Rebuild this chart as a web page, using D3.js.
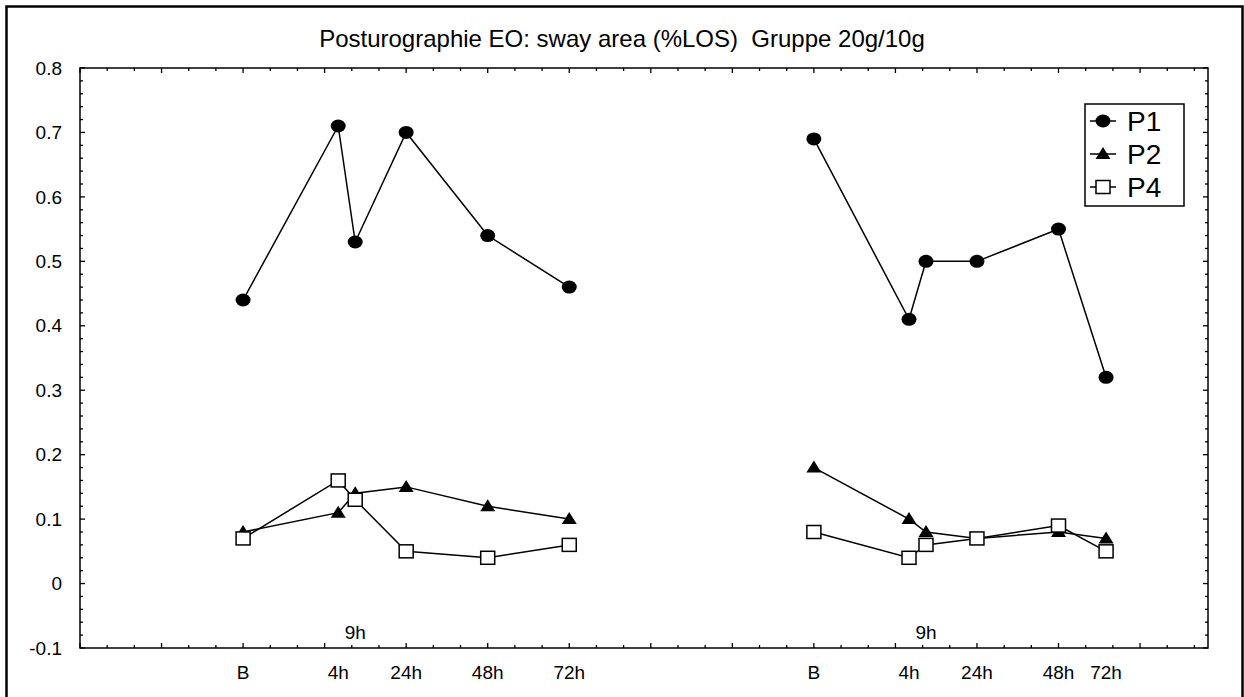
<!DOCTYPE html>
<html><head><meta charset="utf-8">
<script src="https://cdn.jsdelivr.net/npm/d3@7"></script>
<style>body{margin:0;background:#fff;} text{font-family:Arial,"Liberation Sans",sans-serif;fill:#000;white-space:pre;}</style>
</head><body><svg id="c" width="1244" height="697"></svg>
<script>
// ---- data ----
const title = "Posturographie EO: sway area (%LOS)  Gruppe 20g/10g";
const xHours = [-24, 4, 9, 24, 48, 72, 144, 172, 177, 192, 216, 230];
const groupOf = [0, 0, 0, 0, 0, 0, 1, 1, 1, 1, 1, 1];
const seriesNames = ["P1", "P2", "P4"];
const p1 = [0.44, 0.71, 0.53, 0.70, 0.54, 0.46, 0.69, 0.41, 0.50, 0.50, 0.55, 0.32];
const p2 = [0.08, 0.11, 0.14, 0.15, 0.12, 0.10, 0.18, 0.10, 0.08, 0.07, 0.08, 0.07];
const p4 = [0.07, 0.16, 0.13, 0.05, 0.04, 0.06, 0.08, 0.04, 0.06, 0.07, 0.09, 0.05];
const labelHours = [-24, 4, 24, 48, 72, 144, 172, 192, 216, 230];
const labelTexts = ["B", "4h", "24h", "48h", "72h", "B", "4h", "24h", "48h", "72h"];
const noteHours = [9, 177];
const noteTexts = ["9h", "9h"];
const yTickLabels = ["-0.1", "0", "0.1", "0.2", "0.3", "0.4", "0.5", "0.6", "0.7", "0.8"];

// ---- layout ----
const svg = d3.select("#c");
const L = 80, R = 1208, T = 68, B = 648;
const x = d3.scaleLinear().domain([-72, 260]).range([L, R]);
const y = d3.scaleLinear().domain([-0.1, 0.8]).range([B, T]);

// outer frame
svg.append("rect").attr("x", 6.5).attr("y", 6.5).attr("width", 1236).attr("height", 700)
  .attr("fill", "none").attr("stroke", "#000").attr("stroke-width", 2.5);

svg.append("text").attr("x", 622).attr("y", 47).attr("text-anchor", "middle")
  .attr("font-size", 24).text(title);

// plot frame
svg.append("rect").attr("x", L).attr("y", T).attr("width", R - L).attr("height", B - T)
  .attr("fill", "none").attr("stroke", "#000").attr("stroke-width", 1.5);

// x ticks (inward, top and bottom)
const xMinor = d3.range(-72, 261, 8);
const g = svg.append("g").attr("stroke", "#000").attr("stroke-width", 1.3);
xMinor.forEach(h => {
  const len = (h % 24 === 0) ? 5 : 3;
  g.append("line").attr("x1", x(h)).attr("x2", x(h)).attr("y1", B).attr("y2", B - len);
  g.append("line").attr("x1", x(h)).attr("x2", x(h)).attr("y1", T).attr("y2", T + len);
});
// y ticks (inward, left and right)
const yMinor = d3.range(-5, 41).map(i => i * 0.02);
yMinor.forEach((v, i) => {
  const major = (i % 5 === 0);
  const len = major ? 5 : 3;
  g.append("line").attr("x1", L).attr("x2", L + len).attr("y1", y(v)).attr("y2", y(v));
  g.append("line").attr("x1", R).attr("x2", R - len).attr("y1", y(v)).attr("y2", y(v));
});

// y tick labels
yTickLabels.forEach(s => {
  svg.append("text").attr("x", 62).attr("y", y(+s)).attr("dy", "0.35em")
    .attr("text-anchor", "end").attr("font-size", 19).text(s);
});
// x labels
labelHours.forEach((h, i) => {
  svg.append("text").attr("x", x(h)).attr("y", 679).attr("text-anchor", "middle")
    .attr("font-size", 19).text(labelTexts[i]);
});
noteHours.forEach((h, i) => {
  svg.append("text").attr("x", x(h)).attr("y", 639).attr("text-anchor", "middle")
    .attr("font-size", 19).text(noteTexts[i]);
});

// series
const all = [p1, p2, p4];
const line = d3.line().x(d => x(d.h)).y(d => y(d.v));
const symCircle = (s, cx, cy) => s.append("ellipse").attr("cx", cx).attr("cy", cy).attr("rx", 7.5).attr("ry", 6.5).attr("fill", "#000");
const symTri = (s, cx, cy) => s.append("path").attr("d", `M${cx},${cy-7}L${cx+7.5},${cy+5}L${cx-7.5},${cy+5}Z`).attr("fill", "#000");
const symSq = (s, cx, cy) => s.append("rect").attr("x", cx - 7).attr("y", cy - 6.5).attr("width", 14).attr("height", 13)
  .attr("fill", "#fff").attr("stroke", "#000").attr("stroke-width", 1.5);
const syms = [symCircle, symTri, symSq];

all.forEach((vals, si) => {
  const pts = vals.map((v, i) => ({h: xHours[i], v, g: groupOf[i]}));
  [0, 1].forEach(gi => {
    svg.append("path").attr("d", line(pts.filter(p => p.g === gi)))
      .attr("fill", "none").attr("stroke", "#000").attr("stroke-width", 1.5);
  });
});
all.forEach((vals, si) => {
  const sg = svg.append("g");
  vals.forEach((v, i) => syms[si](sg, x(xHours[i]), y(v)));
});

// legend
const lg = svg.append("g");
lg.append("rect").attr("x", 1085).attr("y", 104).attr("width", 99).attr("height", 102)
  .attr("fill", "#fff").attr("stroke", "#000").attr("stroke-width", 1.5);
seriesNames.forEach((n, i) => {
  const cy = 121 + i * 33;
  lg.append("line").attr("x1", 1090).attr("x2", 1116).attr("y1", cy).attr("y2", cy)
    .attr("stroke", "#000").attr("stroke-width", 1.5);
  syms[i](lg, 1103, cy);
  lg.append("text").attr("x", 1127).attr("y", cy).attr("dy", "0.36em").attr("font-size", 28).text(n);
});
</script></body></html>
